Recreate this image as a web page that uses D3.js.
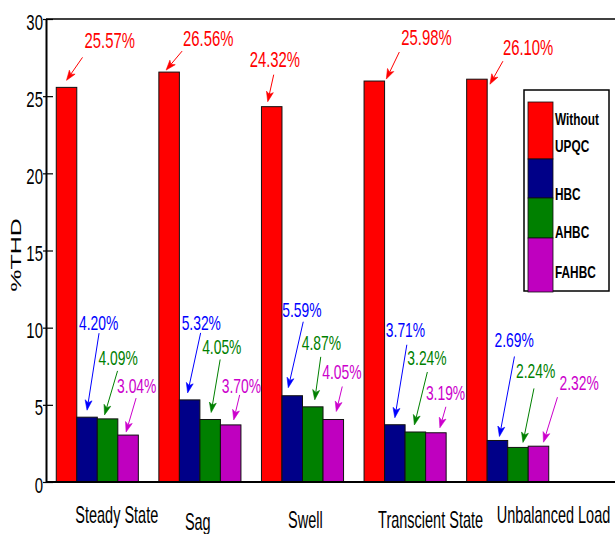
<!DOCTYPE html>
<html>
<head>
<meta charset="utf-8">
<script src="https://cdn.jsdelivr.net/npm/d3@7"></script>
<style>
  html, body { margin: 0; padding: 0; background: #fff; }
  svg { display: block; }
  text { font-family: "Liberation Sans", Arial, Helvetica, sans-serif; }
</style>
</head>
<body>
<svg id="chart" width="615" height="534"></svg>
<script>
// ---------------- data ----------------
const categories = ["Steady State", "Sag", "Swell", "Transcient State", "Unbalanced Load"];
const seriesNames = ["Without UPQC", "HBC", "AHBC", "FAHBC"];
const withoutUPQC = [25.57, 26.56, 24.32, 25.98, 26.10];
const hbc         = [4.20, 5.32, 5.59, 3.71, 2.69];
const ahbc        = [4.09, 4.05, 4.87, 3.24, 2.24];
const fahbc       = [3.04, 3.70, 4.05, 3.19, 2.32];
const yTicks = [0, 5, 10, 15, 20, 25, 30];
const yLabel = "%THD";

// ---------------- styles / layout ----------------
const barColors  = ["#ff0000", "#000088", "#008000", "#bf00bf"];
const textColors = ["#ff0000", "#0000ff", "#008000", "#cc00cc"];
const legendLines = [["Without", "UPQC"], ["HBC"], ["AHBC"], ["FAHBC"]];

// annotation offsets relative to bar top-centre: [tipDx, tipDy, tailDx, tailDy, textDx, textDy]
const annotLayout = [
  [[0,-7,16,-30,18,-39],[-3,-2,13,-21,14,-26],[-4,-5,2,-32,-22,-40],[12,-2,25,-29,27,-36],[13,5,26,-18,26,-24]],
  [[0,-7,12,-84,-8,-87],[-2,-7,11,-67,-8,-70],[-4,-8,11,-74,-10,-79],[0,-7,12,-80,-9,-88],[2,-4,17,-84,-3,-93]],
  [[-3,-4,10,-48,-9,-54],[1,-7,10,-60,-8,-65],[2,-7,8,-50,-11,-57],[-1,-7,12,-60,-8,-67],[5,-5,16,-59,-2,-69]],
  [[-2,-3,8,-37,-11,-42],[3,-5,9,-30,-9,-32],[3,-8,9,-33,-11,-40],[4,-5,10,-26,-10,-33],[5,-4,19,-49,21,-56]]
];
// category label: [dx from group centre (text start), baseline y]
const xLabelLayout = [[-22, 523], [-15, 530], [-14.5, 528], [-27, 528], [-11, 523]];

const seriesValues = [withoutUPQC, hbc, ahbc, fahbc];

const svg = d3.select("#chart");
const plotLeft = 46, plotTop = 19, plotBottom = 482;

const x = d3.scaleLinear().domain([0.5, 6.5]).range([plotLeft, plotLeft + 6 * 102.6]);
const sub = d3.scaleBand().domain(seriesNames).range([-0.4, 0.4]);
const y = d3.scaleLinear().domain([0, 30]).range([plotBottom, plotTop]);

const bw = x(sub.bandwidth()) - x(0);

// bars
const bars = svg.append("g");
seriesValues.forEach((vals, si) => {
  bars.selectAll(null).data(vals).enter().append("rect")
    .attr("x", (d, i) => x(i + 1 + sub(seriesNames[si])))
    .attr("y", d => y(d))
    .attr("width", bw)
    .attr("height", d => y(0) - y(d))
    .attr("fill", barColors[si])
    .attr("stroke", "#111")
    .attr("stroke-width", 1);
});

// axes lines
svg.append("line").attr("x1", plotLeft).attr("x2", 615).attr("y1", plotTop).attr("y2", plotTop)
  .attr("stroke", "#000").attr("stroke-width", 1.5);
svg.append("line").attr("x1", plotLeft).attr("x2", 615).attr("y1", plotBottom).attr("y2", plotBottom)
  .attr("stroke", "#000").attr("stroke-width", 2);

const yAxis = svg.append("g").attr("transform", `translate(${plotLeft},0)`)
  .call(d3.axisLeft(y).tickValues(yTicks).tickFormat(d3.format("d")).tickSizeOuter(0));
yAxis.select(".domain").attr("stroke", "#000").attr("stroke-width", 2);
yAxis.selectAll(".tick line").attr("x1", -3).attr("x2", 7).attr("stroke", "#000").attr("stroke-width", 1.2);
yAxis.selectAll(".tick text")
  .attr("x", 0).attr("dy", null).attr("y", 0)
  .attr("text-anchor", "end")
  .attr("transform", "translate(-3,10) scale(0.68,1)")
  .attr("fill", "#000")
  .style("font-size", "22px")
  .style("font-family", "'Liberation Sans', Arial, sans-serif");

// y label
svg.append("text")
  .attr("transform", "translate(21,255) scale(0.62,1) rotate(-90)")
  .attr("text-anchor", "middle")
  .style("font-size", "25px")
  .attr("fill", "#000")
  .text(yLabel);

// category labels
svg.append("g").selectAll("text").data(categories).enter().append("text")
  .attr("transform", (d, i) => `translate(${x(i + 1) + xLabelLayout[i][0]},${xLabelLayout[i][1]}) scale(0.63,1)`)
  .style("font-size", "23px")
  .attr("fill", "#000")
  .text(d => d);

// annotations with arrows
const fmt = d3.format(".2f");
const ann = svg.append("g");
seriesValues.forEach((vals, si) => {
  vals.forEach((v, i) => {
    const cx = x(i + 1 + sub(seriesNames[si])) + bw / 2;
    const cy = y(v);
    const L = annotLayout[si][i];
    const tip = [cx + L[0], cy + L[1]];
    const tail = [cx + L[2], cy + L[3]];
    const col = textColors[si];
    const dxv = tip[0] - tail[0], dyv = tip[1] - tail[1];
    const len = Math.hypot(dxv, dyv);
    const ux = dxv / len, uy = dyv / len;
    const px = -uy, py = ux;
    const hl = 10, hw = 3.5, notch = 7.5;
    const back = [tip[0] - ux * hl, tip[1] - uy * hl];
    const nb = [tip[0] - ux * notch, tip[1] - uy * notch];
    ann.append("line")
      .attr("x1", tail[0]).attr("y1", tail[1]).attr("x2", nb[0]).attr("y2", nb[1])
      .attr("stroke", col).attr("stroke-width", 1);
    ann.append("path")
      .attr("d", `M${tip[0]},${tip[1]}L${back[0] + px * hw},${back[1] + py * hw}L${nb[0]},${nb[1]}L${back[0] - px * hw},${back[1] - py * hw}Z`)
      .attr("fill", col).attr("stroke", col).attr("stroke-width", 0.6);
    ann.append("text")
      .attr("transform", `translate(${cx + L[4]},${cy + L[5]}) scale(0.66,1)`)
      .style("font-size", si === 0 ? "22.5px" : "21px")
      .attr("fill", col)
      .text(fmt(v) + "%");
  });
});

// legend
const lg = svg.append("g");
const legendBox = { x: 524, y: 90, w: 85, h: 201 };
const patchX = 528, patchW = 25;
const patchBounds = [102, 159, 198, 238, 292];
const textBaselines = [[125, 152], [200], [238], [278]];
lg.append("rect").attr("x", legendBox.x).attr("y", legendBox.y).attr("width", legendBox.w).attr("height", legendBox.h)
  .attr("fill", "#fff").attr("stroke", "#000").attr("stroke-width", 1.5);
seriesNames.forEach((name, si) => {
  lg.append("rect").attr("x", patchX).attr("y", patchBounds[si]).attr("width", patchW)
    .attr("height", patchBounds[si + 1] - patchBounds[si])
    .attr("fill", barColors[si]).attr("stroke", "#111").attr("stroke-width", 0.8);
  legendLines[si].forEach((t, li) => {
    lg.append("text")
      .attr("transform", `translate(555,${textBaselines[si][li]}) scale(0.74,1)`)
      .style("font-size", "16px").style("font-weight", "bold")
      .attr("fill", "#000")
      .text(t);
  });
});
</script>
</body>
</html>
